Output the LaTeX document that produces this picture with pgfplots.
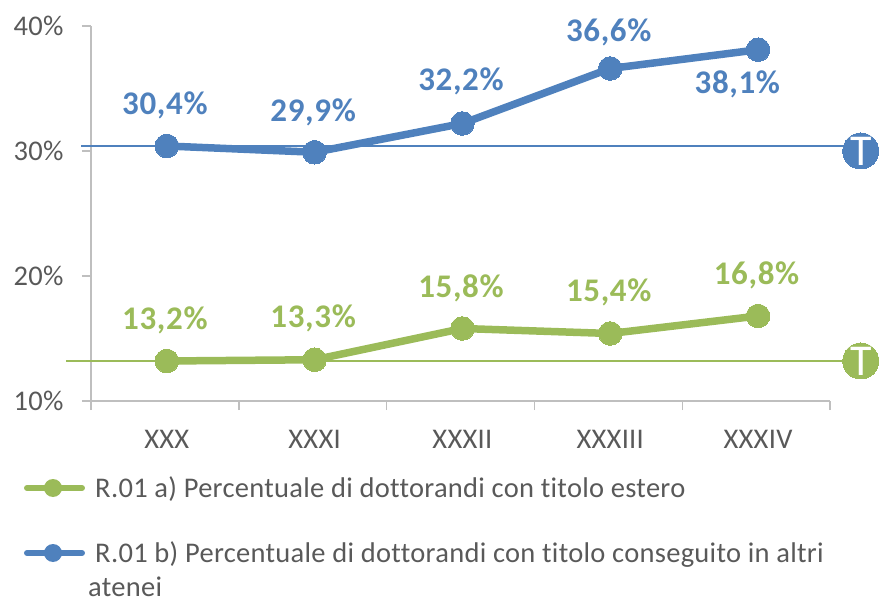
\documentclass[border=0pt]{standalone}
\usepackage{pgfplots}
\usepackage{fontspec}
\setmainfont{Carlito}[Ligatures=NoCommon]
\pgfplotsset{compat=1.18}
\definecolor{gblue}{HTML}{4F81BD}
\definecolor{ggreen}{HTML}{9BBB59}
\definecolor{gtext}{HTML}{595959}
\definecolor{gaxis}{HTML}{BFBFBF}
\newcommand{\lab}{\fontsize{28.5bp}{33bp}\selectfont\addfontfeatures{LetterSpace=1}}
\newcommand{\val}{\fontsize{33bp}{38bp}\selectfont\bfseries\addfontfeatures{LetterSpace=2}}

\begin{document}
\begin{tikzpicture}
\useasboundingbox (-91bp,-197bp) rectangle (788bp,401bp);
\begin{axis}[
    at={(0,0)}, anchor=south west,
    scale only axis,
    width=739bp, height=375bp,
    xmin=-0.513, xmax=4.487,
    ymin=10, ymax=40,
    clip=false,
    axis x line*=bottom,
    axis y line*=left,
    axis line style={gaxis, line width=1.4bp, -},
    xtick={0,1,2,3,4},
    xticklabels={XXX,XXXI,XXXII,XXXIII,XXXIV},
    minor xtick={-0.513,0.487,1.487,2.487,3.487,4.487},
    ytick={10,20,30,40},
    yticklabels={10\%,20\%,30\%,40\%},
    major x tick style={draw=none},
    minor tick length=9bp,
    minor x tick style={gaxis, line width=1.4bp},
    tick align=outside,
    major tick length=9bp,
    y tick style={gaxis, line width=1.4bp},
    tick label style={text=gtext, font=\lab},
    /pgf/number format/assume math mode=true,
    xticklabel style={yshift=-17bp},
    yticklabel style={xshift=-15bp},
    t mark/.style={only marks, mark=*, mark size=18bp,
        mark options={fill=#1, draw=#1, line width=0pt},
        nodes near coords={T}, nodes near coords align={center},
        every node near coord/.style={text=white, inner sep=0pt, font=\fontsize{44bp}{44bp}\selectfont}},
]
% target lines
\addplot[gblue, line width=1.5bp] coordinates {(-0.58,30.4) (4.6,30.4)};
\addplot[ggreen, line width=1.5bp] coordinates {(-0.68,13.2) (4.6,13.2)};
% series
\addplot[ggreen, line width=7.5bp, mark=*, mark size=11.8bp, mark options={fill=ggreen, draw=ggreen, line width=0pt}]
    coordinates {(0,13.2) (1,13.3) (2,15.8) (3,15.4) (4,16.8)};
\addplot[gblue, line width=7.5bp, mark=*, mark size=11.8bp, mark options={fill=gblue, draw=gblue, line width=0pt}]
    coordinates {(0,30.4) (1,29.9) (2,32.2) (3,36.6) (4,38.1)};
% T markers
\addplot[t mark=gblue] coordinates {(4.695,30)};
\addplot[t mark=ggreen] coordinates {(4.695,13.2)};
% data labels
\begin{scope}[every node/.style={text=gblue, font=\val}]
\node at (axis cs:-0.013,33.68) {30,4\%};
\node at (axis cs:0.99,33.12) {29,9\%};
\node at (axis cs:1.99,35.6) {32,2\%};
\node at (axis cs:2.99,39.5) {36,6\%};
\node at (axis cs:3.86,35.34) {38,1\%};
\end{scope}
\begin{scope}[every node/.style={text=ggreen, font=\val}]
\node at (axis cs:-0.013,16.44) {13,2\%};
\node at (axis cs:0.99,16.6) {13,3\%};
\node at (axis cs:1.99,19.04) {15,8\%};
\node at (axis cs:2.99,18.72) {15,4\%};
\node at (axis cs:3.99,20.08) {16,8\%};
\end{scope}
\end{axis}
% legend
\draw[ggreen, line width=6bp, line cap=round] (-64bp,-87bp) -- (-9bp,-87bp);
\fill[ggreen] (-38bp,-87bp) circle (9bp);
\draw[gblue, line width=6bp, line cap=round] (-64bp,-152bp) -- (-9bp,-152bp);
\fill[gblue] (-38bp,-152bp) circle (9bp);
\node[anchor=base west, inner sep=0pt, text=gtext, font=\lab] at (4bp,-96bp) {R.01 a) Percentuale di dottorandi con titolo estero};
\node[anchor=base west, inner sep=0pt, text=gtext, font=\lab] at (4bp,-161bp) {R.01 b) Percentuale di dottorandi con titolo conseguito in altri};
\node[anchor=base west, inner sep=0pt, text=gtext, font=\lab] at (-3bp,-195bp) {atenei};
\end{tikzpicture}
\end{document}
